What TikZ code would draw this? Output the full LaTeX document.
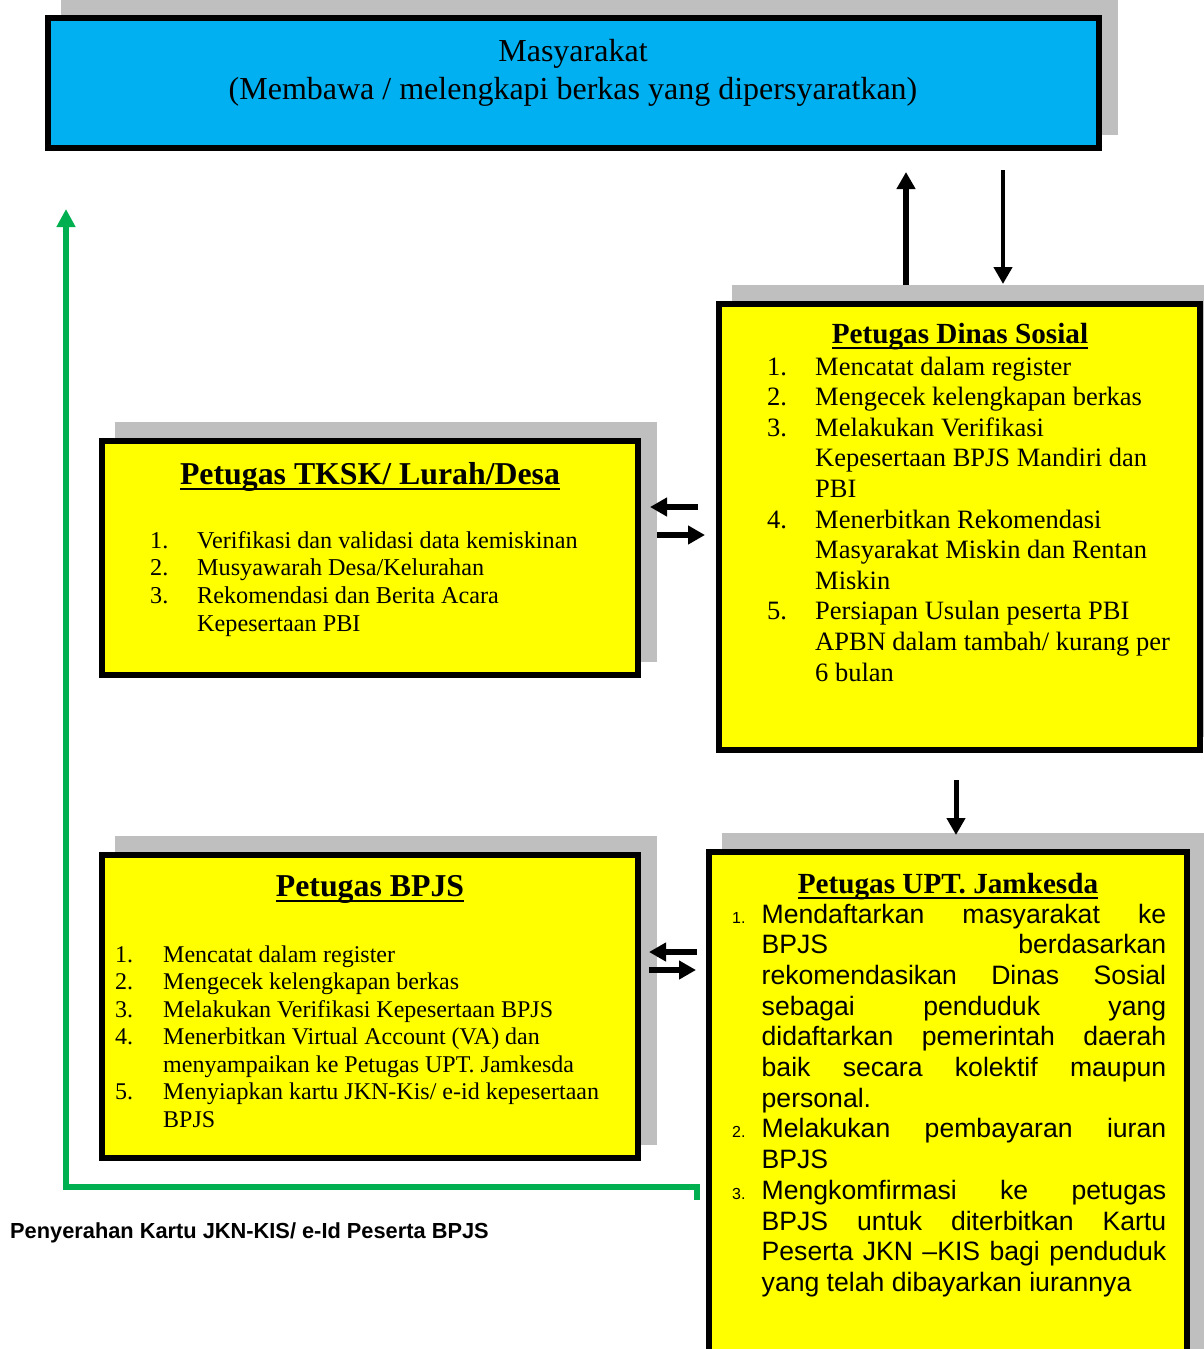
\documentclass[tikz,border=0pt]{standalone}
\usepackage{fontspec}
\setmainfont{Liberation Serif}
\newfontfamily\arialfont{Liberation Sans}[BoldFont={Liberation Sans Bold}]
\usepackage{tikz}
\usetikzlibrary{
  arrows.meta,
  shadows
}
\definecolor{langit}{HTML}{00B0F0}
\definecolor{kuning}{HTML}{FFFF00}
\definecolor{bayang}{HTML}{BFBFBF}
\definecolor{hijau}{HTML}{00B050}
\newcommand\judul[1]{\sbox0{#1}\rlap{\rule[-6.2pt]{\wd0}{2.4pt}}\usebox0}
\newcommand\jl[1]{\makebox[404.5pt][s]{#1}}
\newcommand\nomor[1]{{\fontsize{16}{16}\selectfont #1}}
\tikzset{
  kotak/.style={draw,line width=6pt,inner sep=0pt,fill=kuning,
    general shadow={fill=bayang,draw=bayang,line width=6pt,shadow xshift=16pt,shadow yshift=16pt}},
  teks/.style={inner sep=0pt,anchor=base west},
  judulteks/.style={inner sep=0pt,anchor=base,font=\bfseries\fontsize{#1}{#1}\selectfont},
  panah/.style={line width=5.5pt,-{Triangle[length=17pt,width=18pt]}},
}

\begin{document}
\begin{tikzpicture}[x=1pt,y=-1pt]
\useasboundingbox (0,0) rectangle (1204,1349);
\node[kotak,fill=langit,minimum width=1051pt,minimum height=130pt] (masy) at (573.5,83) {};
\node[kotak,minimum width=481pt,minimum height=446pt] (dinsos) at (959.5,527) {};
\node[kotak,minimum width=536pt,minimum height=234pt] (tksk) at (370,558) {};
\node[kotak,minimum width=536pt,minimum height=303pt] (bpjs) at (370,1006.5) {};
\node[kotak,minimum width=478pt,minimum height=528pt] (upt) at (948,1116) {};

\node[inner sep=0pt,anchor=base,font=\fontsize{32}{38}\selectfont] (masyteks) at (573,61)
  {\begin{tabular}[t]{@{}c@{}}Masyarakat\\(Membawa / melengkapi berkas yang dipersyaratkan)\end{tabular}};

\node[judulteks=29.2] (dinsosjudul) at (960,343) {\judul{Petugas Dinas Sosial}};
\node[teks,font=\fontsize{26.5}{30.6}\selectfont] (dinsoslist) at (767,375) {%
  \begin{tabular}[t]{@{}p{48pt}@{}l@{}}
  1. & Mencatat dalam register\\
  2. & Mengecek kelengkapan berkas\\
  3. & Melakukan Verifikasi\\
     & Kepesertaan BPJS Mandiri dan\\
     & PBI\\
  4. & Menerbitkan Rekomendasi\\
     & Masyarakat Miskin dan Rentan\\
     & Miskin\\
  5. & Persiapan Usulan peserta PBI\\
     & APBN dalam tambah/ kurang per\\
     & 6 bulan
  \end{tabular}};

\node[judulteks=31.8] (tkskjudul) at (370,484) {\judul{Petugas TKSK/ Lurah/Desa}};
\node[teks,font=\fontsize{24.2}{27.9}\selectfont] (tksklist) at (150,548) {%
  \begin{tabular}[t]{@{}p{47pt}@{}l@{}}
  1. & Verifikasi dan validasi data kemiskinan\\
  2. & Musyawarah Desa/Kelurahan\\
  3. & Rekomendasi dan Berita Acara\\
     & Kepesertaan PBI
  \end{tabular}};

\node[judulteks=31.8] (bpjsjudul) at (370,896) {\judul{Petugas BPJS}};
\node[teks,font=\fontsize{24}{27.5}\selectfont] (bpjslist) at (115,962) {%
  \begin{tabular}[t]{@{}p{48pt}@{}l@{}}
  1. & Mencatat dalam register\\
  2. & Mengecek kelengkapan berkas\\
  3. & Melakukan Verifikasi Kepesertaan BPJS\\
  4. & Menerbitkan Virtual Account (VA) dan\\
     & menyampaikan ke Petugas UPT. Jamkesda\\
  5. & Menyiapkan kartu JKN-Kis/ e-id kepesertaan\\
     & BPJS
  \end{tabular}};

\node[judulteks=29.2] (uptjudul) at (948,893) {\judul{Petugas UPT. Jamkesda}};
\node[teks,font=\arialfont\fontsize{26.6}{30.7}\selectfont] (uptlist) at (732,923) {%
  \begin{tabular}[t]{@{}p{29.5pt}@{}l@{}}
  \nomor{1.} & \jl{Mendaftarkan masyarakat ke}\\
     & \jl{BPJS berdasarkan}\\
     & \jl{rekomendasikan Dinas Sosial}\\
     & \jl{sebagai penduduk yang}\\
     & \jl{didaftarkan pemerintah daerah}\\
     & \jl{baik secara kolektif maupun}\\
     & personal.\\
  \nomor{2.} & \jl{Melakukan pembayaran iuran}\\
     & BPJS\\
  \nomor{3.} & \jl{Mengkomfirmasi ke petugas}\\
     & \jl{BPJS untuk diterbitkan Kartu}\\
     & \jl{Peserta JKN –KIS bagi penduduk}\\
     & yang telah dibayarkan iurannya
  \end{tabular}};

\node[teks,font=\arialfont\bfseries\fontsize{21.8}{25}\selectfont] (serah) at (10,1238)
  {Penyerahan Kartu JKN-KIS/ e-Id Peserta BPJS};

\draw[panah,line width=6pt] ([shift={(-53.5,-16)}]dinsos.north) -- ([shift={(332.5,21)}]masy.south);
\draw[panah,line width=4.5pt] ([shift={(429.5,19)}]masy.south) -- ([shift={(43.5,-17)}]dinsos.north);
\draw[panah,line width=5pt] ([shift={(-3.5,27)}]dinsos.south) -- ([shift={(8,-14)}]upt.north);
\draw[panah] ([shift={(-18,-20)}]dinsos.west) -- ([shift={(9,-51)}]tksk.east);
\draw[panah] ([shift={(16,-23)}]tksk.east) -- ([shift={(-11,8)}]dinsos.west);
\draw[panah] ([shift={(-9,-164)}]upt.west) -- ([shift={(8,-54.5)}]bpjs.east);
\draw[panah] ([shift={(8,-36.5)}]bpjs.east) -- ([shift={(-10,-146)}]upt.west);

\coordinate (balik) at (66,209);
\draw[panah,hijau,-{Triangle[length=18pt,width=18pt]}] ([shift={(-9,84)}]upt.west) -- ++(0,-13) -| (balik);
\end{tikzpicture}
\end{document}
